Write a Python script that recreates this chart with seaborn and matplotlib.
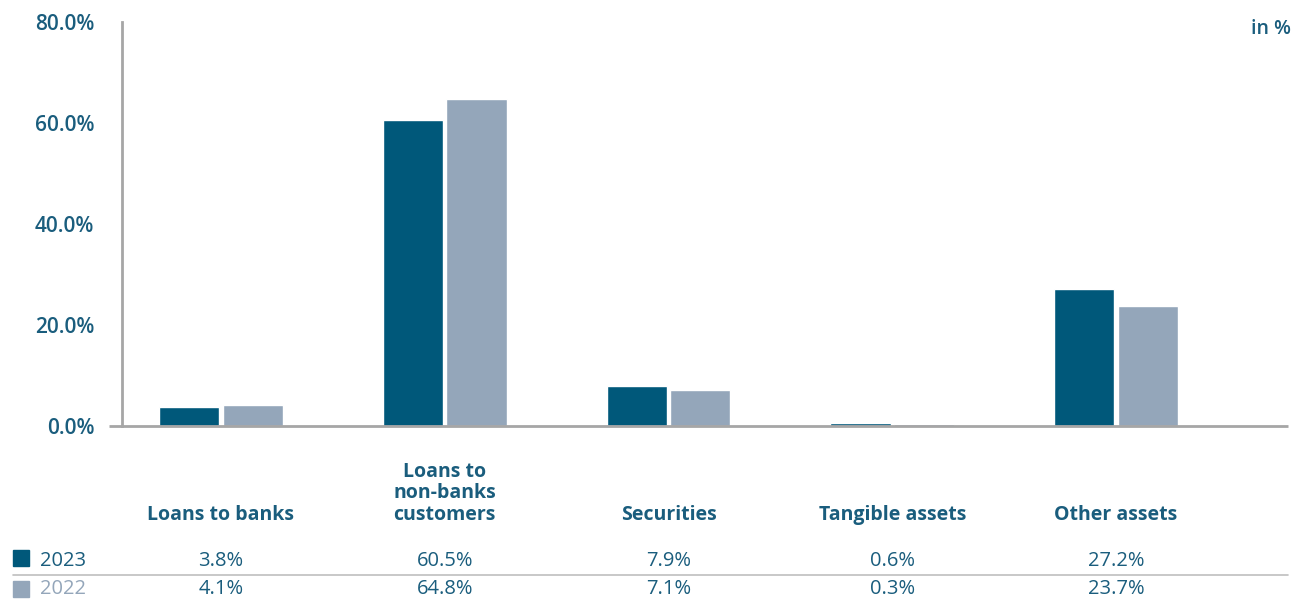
import matplotlib
matplotlib.use("Agg")
import matplotlib.pyplot as plt
import matplotlib.transforms as mtransforms
from matplotlib.lines import Line2D
from matplotlib.patches import Rectangle
import seaborn as sns
import pandas as pd

# Asset structure data
categories = ["Loans to banks", "Loans to\nnon-banks\ncustomers", "Securities",
              "Tangible assets", "Other assets"]
years = ["2023", "2022"]
values_2023 = [3.8, 60.5, 7.9, 0.6, 27.2]
values_2022 = [4.1, 64.8, 7.1, 0.3, 23.7]
y_ticks = [0, 20, 40, 60, 80]

DARK = "#00587a"
LIGHT = "#94a6ba"
TEXT = "#1a5d7d"
GRID = "#a6a6a6"

sns.set_theme(style="white")
plt.rcParams["font.family"] = ["Open Sans", "DejaVu Sans"]

df = pd.DataFrame({
    "category": categories * 2,
    "year": [years[0]] * len(categories) + [years[1]] * len(categories),
    "value": values_2023 + values_2022,
})

W, H = 1293, 600
fig = plt.figure(figsize=(W / 100, H / 100), dpi=100)
ax_left, ax_right, ax_top, ax_bottom = 122, 1288, 22, 426
ax = fig.add_axes([ax_left / W, 1 - ax_bottom / H,
                   (ax_right - ax_left) / W, (ax_bottom - ax_top) / H])

sns.barplot(data=df, x="category", y="value", hue="year", order=categories,
            hue_order=years, palette=[DARK, LIGHT], width=0.568, gap=0.055,
            saturation=1, legend=False, ax=ax)

spacing = 223.75
x0 = -0.5 + (ax_left - 109) / spacing
x1 = 4.5 + (ax_right - 1228) / spacing
ax.set_xlim(x0, x1)
ax.set_ylim(0, 80)

ax.set_xlabel("")
ax.set_ylabel("")
ax.set_xticks([])
ax.set_yticks(y_ticks)
ax.set_yticklabels([f"{v:.1f}%" for v in y_ticks], color=TEXT, fontsize=15,
                   fontweight="semibold")
ax.tick_params(axis="y", length=0, pad=20)
for lbl in ax.get_yticklabels():
    lbl.set_verticalalignment("center_baseline")

for side in ["top", "right", "bottom"]:
    ax.spines[side].set_visible(False)
ax.spines["left"].set_color(GRID)
ax.spines["left"].set_linewidth(2)

# Baseline extended slightly to the left of the axis
ax.plot([-0.5, x1], [0, 0], color=GRID, lw=2, clip_on=False, zorder=5,
        solid_capstyle="butt")

fig.text(1291 / W, 1 - 29 / H, "in %", ha="right", va="center",
         color=TEXT, fontsize=14, fontweight="semibold")

# Category labels and table below the chart
trans = mtransforms.blended_transform_factory(ax.transData, fig.transFigure)
for i, cat in enumerate(categories):
    ax.text(i, 1 - 525 / H, cat, transform=trans, ha="center", va="bottom",
            color=TEXT, fontsize=14, fontweight="bold", linespacing=1.1)
    ax.text(i, 1 - 561 / H, f"{values_2023[i]:.1f}%", transform=trans,
            ha="center", va="center", color=TEXT, fontsize=14.5)
    ax.text(i, 1 - 589 / H, f"{values_2022[i]:.1f}%", transform=trans,
            ha="center", va="center", color=TEXT, fontsize=14.5)

# Legend swatches and year labels
for yc, year, col, ty in [(558, years[0], DARK, 561), (589, years[1], LIGHT, 589)]:
    fig.patches.append(Rectangle((13 / W, 1 - (yc + 8) / H), 16 / W, 16 / H,
                                 transform=fig.transFigure, color=col))
    fig.text(40 / W, 1 - ty / H, year, ha="left", va="center",
             color=col if year == years[1] else TEXT, fontsize=14.5)

fig.lines.append(Line2D([13 / W, 1288 / W], [1 - 575 / H, 1 - 575 / H],
                        transform=fig.transFigure, color="#bfbfbf", lw=1.2))

fig.savefig("out.png", dpi=100)
